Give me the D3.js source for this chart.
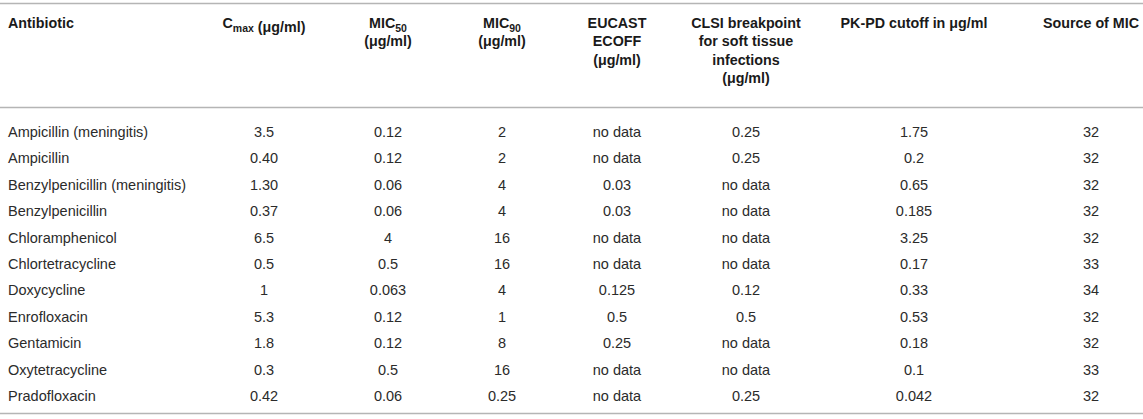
<!DOCTYPE html>
<html>
<head>
<meta charset="utf-8">
<script src="https://cdn.jsdelivr.net/npm/d3@7"></script>
<style>
    body { margin: 0; background: #fff; }
    svg text { font-family: "Liberation Sans", Arial, Helvetica, sans-serif; }
</style>
</head>
<body>
<div id="content"></div>
<script>
// ******* TABLE DATA *******
const antibiotics = ["Ampicillin (meningitis)", "Ampicillin", "Benzylpenicillin (meningitis)", "Benzylpenicillin",
    "Chloramphenicol", "Chlortetracycline", "Doxycycline", "Enrofloxacin", "Gentamicin", "Oxytetracycline", "Pradofloxacin"];
const cmax = ["3.5", "0.40", "1.30", "0.37", "6.5", "0.5", "1", "5.3", "1.8", "0.3", "0.42"];
const mic50 = ["0.12", "0.12", "0.06", "0.06", "4", "0.5", "0.063", "0.12", "0.12", "0.5", "0.06"];
const mic90 = ["2", "2", "4", "4", "16", "16", "4", "1", "8", "16", "0.25"];
const eucastEcoff = ["no data", "no data", "0.03", "0.03", "no data", "no data", "0.125", "0.5", "0.25", "no data", "no data"];
const clsiBreakpoint = ["0.25", "0.25", "no data", "no data", "no data", "no data", "0.12", "0.5", "no data", "no data", "0.25"];
const pkpdCutoff = ["1.75", "0.2", "0.65", "0.185", "3.25", "0.17", "0.33", "0.53", "0.18", "0.1", "0.042"];
const micSource = ["32", "32", "32", "32", "32", "33", "34", "32", "32", "33", "32"];

// header lines, _{..} marks a subscript
const columnKeys = ["antibiotic", "cmax", "mic50", "mic90", "eucast", "clsi", "pkpd", "source"];
const columnHeaders = [
    ["Antibiotic"],
    ["C_{max} (μg/ml)"],
    ["MIC_{50}", "(μg/ml)"],
    ["MIC_{90}", "(μg/ml)"],
    ["EUCAST", "ECOFF", "(μg/ml)"],
    ["CLSI breakpoint", "for soft tissue", "infections", "(μg/ml)"],
    ["PK-PD cutoff in μg/ml"],
    ["Source of MIC"]
];
const columnValues = [antibiotics, cmax, mic50, mic90, eucastEcoff, clsiBreakpoint, pkpdCutoff, micSource];

// ******* LAYOUT *******
const width = 1143;
const height = 419;
const ruleColor = "#b5b5b5";

const svg = d3.select("#content").append("svg")
    .attr("width", width)
    .attr("height", height);

// x position of each column (first column is left aligned)
const xCol = d3.scaleOrdinal()
    .domain(columnKeys)
    .range([8, 264, 388, 502, 617, 746, 914, 1091]);

const yRow = d3.scalePoint()
    .domain(antibiotics)
    .range([132, 396]);

// header line positions
const yHeader = d3.scaleLinear().domain([0, 1]).range([22.5, 41]);

// rules
[3.5, 107.5, 413.5].forEach(y => {
    svg.append("line")
        .attr("x1", 0).attr("x2", width)
        .attr("y1", y).attr("y2", y)
        .attr("stroke", ruleColor)
        .attr("stroke-width", 1.6);
});

// ******* HEADER *******
function addSegments(textSel, line) {
    const parts = line.split(/(_\{[^}]*\})/).filter(p => p.length);
    parts.forEach(p => {
        if (p.startsWith("_{")) {
            textSel.append("tspan")
                .attr("font-size", 10.5)
                .attr("dy", 4)
                .text(p.slice(2, -1));
            textSel.append("tspan").attr("dy", -4).text("");
        } else {
            textSel.append("tspan").text(p);
        }
    });
}

const headerG = svg.append("g").attr("class", "header");
columnKeys.forEach((key, i) => {
    columnHeaders[i].forEach((line, j) => {
        const t = headerG.append("text")
            .attr("x", xCol(key))
            .attr("y", yHeader(j))
            .attr("dy", "0.35em")
            .attr("text-anchor", i === 0 ? "start" : "middle")
            .attr("font-size", 14.3)
            .attr("font-weight", "bold")
            .attr("fill", "#1a1a1a");
        addSegments(t, line);
    });
});

// ******* BODY *******
const bodyG = svg.append("g").attr("class", "body");
columnKeys.forEach((key, i) => {
    bodyG.selectAll(null)
        .data(columnValues[i])
        .join("text")
        .attr("x", xCol(key))
        .attr("y", (d, r) => yRow(antibiotics[r]))
        .attr("dy", "0.35em")
        .attr("text-anchor", i === 0 ? "start" : "middle")
        .attr("font-size", 14.5)
        .attr("fill", "#2b2b2b")
        .text(d => d);
});
</script>
</body>
</html>
